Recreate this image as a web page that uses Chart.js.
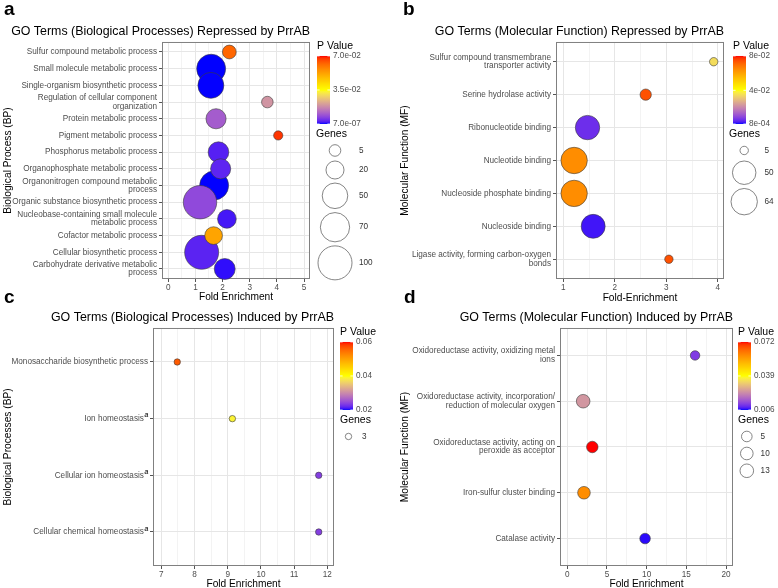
<!DOCTYPE html>
<html>
<head>
<meta charset="utf-8">
<script src="https://cdn.jsdelivr.net/npm/chart.js@4.4.0/dist/chart.umd.min.js"></script>
<style>
html, body { margin: 0; padding: 0; background: #fff; }
#wrap { position: relative; width: 778px; height: 588px; overflow: hidden; font-family: "Liberation Sans", "DejaVu Sans", Arial, sans-serif; }
#wrap canvas { position: absolute; left: 0; top: 0; }
.plab { position: absolute; font-size: 19px; line-height: 19px; font-weight: bold; color: #000; }
</style>
</head>
<body>
<div id="wrap">
  <canvas id="chartA" width="778" height="588"></canvas>
  <canvas id="chartB" width="778" height="588"></canvas>
  <canvas id="chartC" width="778" height="588"></canvas>
  <canvas id="chartD" width="778" height="588"></canvas>
  <div class="plab" style="left:4px;top:-1px">a</div>
  <div class="plab" style="left:403px;top:-1px">b</div>
  <div class="plab" style="left:4px;top:287px">c</div>
  <div class="plab" style="left:404px;top:287px">d</div>
</div>
<script>
// ---------------- DATA ----------------
// Panel a: GO Terms (Biological Processes) Repressed by PrrAB
const aCategories = [
  'Sulfur compound metabolic process',
  'Small molecule metabolic process',
  'Single-organism biosynthetic process',
  'Regulation of cellular component\norganization',
  'Protein metabolic process',
  'Pigment metabolic process',
  'Phosphorus metabolic process',
  'Organophosphate metabolic process',
  'Organonitrogen compound metabolic\nprocess',
  'Organic substance biosynthetic process',
  'Nucleobase-containing small molecule\nmetabolic process',
  'Cofactor metabolic process',
  'Cellular biosynthetic process',
  'Carbohydrate derivative metabolic\nprocess'
];
const aFoldEnrichment = [2.25, 1.58, 1.57, 3.65, 1.76, 4.05, 1.85, 1.93, 1.69, 1.17, 2.16, 1.67, 1.23, 2.08];
const aGenes = [9, 68, 52, 5, 27, 2, 29, 27, 68, 96, 22, 19, 100, 30];
const aPValue = [0.062, 0.00001, 0.00003, 0.019, 0.0105, 0.0676, 0.0025, 0.003, 0.00002, 0.0077, 0.0016, 0.052, 0.0028, 0.0008];
const aXTicks = [0, 1, 2, 3, 4, 5];
const aPTicks = ['7.0e-02', '3.5e-02', '7.0e-07'];
const aGeneBreaks = [5, 20, 50, 70, 100];

// Panel b: GO Terms (Molecular Function) Repressed by PrrAB
const bCategories = [
  'Sulfur compound transmembrane\ntransporter activity',
  'Serine hydrolase activity',
  'Ribonucleotide binding',
  'Nucleotide binding',
  'Nucleoside phosphate binding',
  'Nucleoside binding',
  'Ligase activity, forming carbon-oxygen\nbonds'
];
const bFoldEnrichment = [3.92, 2.60, 1.47, 1.21, 1.21, 1.58, 3.05];
const bGenes = [5, 10, 54, 64, 64, 52, 5];
const bPValue = [0.0345, 0.0741, 0.0055, 0.0642, 0.0642, 0.0024, 0.0741];
const bXTicks = [1, 2, 3, 4];
const bPTicks = ['8e-02', '4e-02', '8e-04'];
const bGeneBreaks = [5, 50, 64];

// Panel c: GO Terms (Biological Processes) Induced by PrrAB  ("^a" marks a superscript a)
const cCategories = [
  'Monosaccharide biosynthetic process',
  'Ion homeostasis^a',
  'Cellular ion homeostasis^a',
  'Cellular chemical homeostasis^a'
];
const cFoldEnrichment = [7.48, 9.14, 11.74, 11.74];
const cGenes = [3, 3, 3, 3];
const cPValue = [0.0564, 0.039, 0.0236, 0.0236];
const cXTicks = [7, 8, 9, 10, 11, 12];
const cPTicks = ['0.06', '0.04', '0.02'];
const cGeneBreaks = [3];

// Panel d: GO Terms (Molecular Function) Induced by PrrAB
const dCategories = [
  'Oxidoreductase activity, oxidizing metal\nions',
  'Oxidoreductase activity, incorporation/\nreduction of molecular oxygen',
  'Oxidoreductase activity, acting on\nperoxide as acceptor',
  'Iron-sulfur cluster binding',
  'Catalase activity'
];
const dFoldEnrichment = [16.1, 2.0, 3.15, 2.1, 9.8];
const dGenes = [3, 13, 7, 10, 5];
const dPValue = [0.0116, 0.0242, 0.072, 0.0588, 0.0066];
const dXTicks = [0, 5, 10, 15, 20];
const dPTicks = ['0.072', '0.039', '0.006'];
const dGeneBreaks = [5, 10, 13];

// ---------------- COLOUR SCALE (blue -> yellow -> red, Lab interpolation) ----------------
const FONT = '"Liberation Sans", "DejaVu Sans", Arial, sans-serif';
function s2l(c) { c /= 255; return c <= 0.04045 ? c / 12.92 : Math.pow((c + 0.055) / 1.055, 2.4); }
function l2s(c) { c = Math.max(0, Math.min(1, c)); return 255 * (c <= 0.0031308 ? 12.92 * c : 1.055 * Math.pow(c, 1 / 2.4) - 0.055); }
function rgb2lab(rgb) {
  const R = s2l(rgb[0]), G = s2l(rgb[1]), B = s2l(rgb[2]);
  const X = (0.4124 * R + 0.3576 * G + 0.1805 * B) / 0.95047;
  const Y = (0.2126 * R + 0.7152 * G + 0.0722 * B);
  const Z = (0.0193 * R + 0.1192 * G + 0.9505 * B) / 1.08883;
  const f = t => t > 0.008856 ? Math.cbrt(t) : 7.787 * t + 16 / 116;
  const fx = f(X), fy = f(Y), fz = f(Z);
  return [116 * fy - 16, 500 * (fx - fy), 200 * (fy - fz)];
}
function lab2rgb(L, a, b) {
  const fy = (L + 16) / 116, fx = fy + a / 500, fz = fy - b / 200;
  const fi = t => t > 0.206893 ? t * t * t : (t - 16 / 116) / 7.787;
  const X = 0.95047 * fi(fx), Y = fi(fy), Z = 1.08883 * fi(fz);
  const R = 3.2406 * X - 1.5372 * Y - 0.4986 * Z;
  const G = -0.9689 * X + 1.8758 * Y + 0.0415 * Z;
  const B = 0.0557 * X - 0.2040 * Y + 1.0570 * Z;
  return [l2s(R), l2s(G), l2s(B)].map(Math.round);
}
const STOP_LABS = [[0, 0, 255], [255, 255, 0], [255, 0, 0]].map(rgb2lab);
function gradColor(t) {
  t = Math.max(0, Math.min(1, t));
  const seg = t < 0.5 ? 0 : 1;
  const u = (t - seg * 0.5) / 0.5;
  const A = STOP_LABS[seg], B = STOP_LABS[seg + 1];
  const c = lab2rgb(A[0] + (B[0] - A[0]) * u, A[1] + (B[1] - A[1]) * u, A[2] + (B[2] - A[2]) * u);
  return 'rgb(' + c.join(',') + ')';
}
const SUP = '^a';
function tickText(label) {
  // superscript marker is replaced by a gap; the raised "a" is drawn by the plugin
  return label.replace(SUP, '\u2002').split('\n');
}

// ---------------- DECORATION PLUGIN (panel border, superscripts, legends) ----------------
function decorPlugin(P) {
  return {
    id: 'decor',
    beforeDatasetsDraw(chart) {
      const { ctx, chartArea: A } = chart;
      ctx.save();
      ctx.strokeStyle = '#808080';
      ctx.lineWidth = 1;
      ctx.strokeRect(A.left + 0.5, A.top + 0.5, A.right - A.left - 1, A.bottom - A.top - 1);
      ctx.restore();
    },
    afterDraw(chart) {
      const { ctx, chartArea: A } = chart;
      ctx.save();
      // superscript markers on category labels
      const ys = chart.scales.y;
      P.categories.forEach((c, i) => {
        if (c.indexOf(SUP) < 0) return;
        const y = ys.getPixelForValue(i);
        ctx.font = 'bold italic 7px ' + FONT;
        ctx.fillStyle = '#333';
        ctx.textAlign = 'right';
        ctx.textBaseline = 'middle';
        ctx.fillText('a', A.left - 4.5, y - 3.2);
      });
      const cbL = A.right + P.legendGap, cbT = A.top + 14, cbW = 13, cbH = 68;
      ctx.textBaseline = 'middle';
      ctx.textAlign = 'left';
      ctx.fillStyle = '#000';
      ctx.font = '10.5px ' + FONT;
      ctx.fillText('P Value', cbL, A.top + 4);
      const g = ctx.createLinearGradient(0, cbT + cbH, 0, cbT);
      for (let i = 0; i <= 40; i++) g.addColorStop(i / 40, gradColor(i / 40));
      ctx.fillStyle = g;
      ctx.fillRect(cbL, cbT, cbW, cbH);
      const vals = P.pTicks.map(Number);
      const lo = Math.min(...vals), hi = Math.max(...vals);
      ctx.font = '8.2px ' + FONT;
      P.pTicks.forEach(lbl => {
        const v = Number(lbl);
        const y = cbT + cbH - (v - lo) / (hi - lo) * cbH;
        ctx.strokeStyle = '#fff';
        ctx.lineWidth = 0.8;
        ctx.beginPath();
        ctx.moveTo(cbL, y); ctx.lineTo(cbL + 2.6, y);
        ctx.moveTo(cbL + cbW - 2.6, y); ctx.lineTo(cbL + cbW, y);
        ctx.stroke();
        ctx.fillStyle = '#4d4d4d';
        ctx.fillText(lbl, cbL + cbW + 3, y);
      });
      // size legend
      const gy = cbT + cbH + 10;
      const gL = cbL + (P.genesShift || 0);
      ctx.fillStyle = '#000';
      ctx.font = '10.5px ' + FONT;
      ctx.fillText('Genes', gL, gy);
      const radii = P.geneBreaks.map(P.sizeFn);
      const keyW = Math.max(17, 2 * Math.max(...radii) + 4);
      let y = gy + 8;
      P.geneBreaks.forEach((gv, i) => {
        const r = radii[i];
        const h = Math.max(17, 2 * r + 4);
        const cy = y + h / 2, cx = gL + keyW / 2;
        ctx.beginPath();
        ctx.arc(cx, cy, r, 0, 2 * Math.PI);
        ctx.strokeStyle = '#666';
        ctx.lineWidth = 0.8;
        ctx.stroke();
        ctx.fillStyle = '#333';
        ctx.font = '8.2px ' + FONT;
        ctx.fillText(String(gv), gL + keyW + 5, cy);
        y += h;
      });
      ctx.restore();
    }
  };
}

// ---------------- CHART BUILDER ----------------
function buildChart(id, P) {
  const B = P.box;
  const n = P.categories.length;
  const majors = new Set(P.xTicks);
  const step = P.xTicks[1] - P.xTicks[0];
  const minors = [];
  for (let v = P.xTicks[0] - step / 2; v <= P.xTicks[P.xTicks.length - 1] + step / 2 + 1e-9; v += step) {
    if (v >= P.xMin && v <= P.xMax) minors.push(v);
  }
  const allTicks = [...P.xTicks, ...minors].sort((a, b) => a - b);
  const vals = P.pTicks.map(Number);
  const lo = Math.min(...vals), hi = Math.max(...vals);
  const points = P.categories.map((c, i) => ({
    x: P.fold[i], y: i, r: P.sizeFn(P.genes[i]), p: P.pvals[i]
  })).sort((a, b) => a.p - b.p);

  new Chart(document.getElementById(id), {
    type: 'bubble',
    data: {
      datasets: [{
        data: points,
        backgroundColor: ctx => gradColor((ctx.raw.p - lo) / (hi - lo)),
        borderColor: '#3a3a3a',
        borderWidth: 0.6,
        clip: false
      }]
    },
    options: {
      responsive: false,
      animation: false,
      devicePixelRatio: 1,
      events: [],
      layout: {
        padding: { left: B.boxLeft, top: B.plotTop - 17.7, right: 778 - B.plotRight, bottom: 588 - B.boxBottom }
      },
      plugins: {
        legend: { display: false },
        tooltip: { enabled: false },
        title: {
          display: true, text: P.title, align: 'end', color: '#000',
          font: { size: 12.4, weight: 'normal', family: FONT, lineHeight: 1.2 },
          padding: { top: 0, bottom: 2.8 }
        }
      },
      scales: {
        x: {
          type: 'linear', position: 'bottom', min: P.xMin, max: P.xMax,
          afterBuildTicks: s => { s.ticks = allTicks.map(v => ({ value: v })); },
          afterFit: s => { s.height = B.boxBottom - B.plotBottom; },
          ticks: {
            autoSkip: false, maxRotation: 0, minRotation: 0, padding: 1, color: '#4d4d4d',
            font: { size: 8.2, family: FONT },
            callback: v => majors.has(v) ? String(v) : ''
          },
          grid: {
            color: c => (c.tick && majors.has(c.tick.value)) ? '#e6e6e6' : '#f3f3f3',
            tickColor: c => (c.tick && majors.has(c.tick.value)) ? '#555' : 'rgba(0,0,0,0)',
            tickLength: 3, lineWidth: 1
          },
          border: { display: false },
          title: {
            display: true, text: P.xTitle, color: '#000',
            font: { size: 10.2, family: FONT, lineHeight: 1.2 },
            padding: { top: 0, bottom: P.xTitlePad }
          }
        },
        y: {
          type: 'linear', position: 'left', min: -0.6, max: n - 0.4, reverse: true,
          afterBuildTicks: s => { s.ticks = P.categories.map((_, i) => ({ value: i })); },
          afterFit: s => { s.width = B.plotLeft - B.boxLeft; },
          ticks: {
            autoSkip: false, padding: 2, color: '#4d4d4d',
            font: { size: 8.2, family: FONT, lineHeight: 1.03 },
            callback: v => tickText(P.categories[v])
          },
          grid: { color: '#e6e6e6', tickColor: '#555', tickLength: 3, lineWidth: 1 },
          border: { display: false },
          title: {
            display: true, text: P.yTitle, color: '#000',
            font: { size: 10.2, family: FONT, lineHeight: 1.2 },
            padding: { top: 0, bottom: 0 }
          }
        }
      }
    },
    plugins: [decorPlugin(P)]
  });
}

buildChart('chartA', {
  title: 'GO Terms (Biological Processes) Repressed by PrrAB',
  xTitle: 'Fold Enrichment', yTitle: 'Biological Process (BP)',
  categories: aCategories, fold: aFoldEnrichment, genes: aGenes, pvals: aPValue,
  xTicks: aXTicks, pTicks: aPTicks, geneBreaks: aGeneBreaks,
  xMin: -0.23, xMax: 5.22,
  sizeFn: g => 2.57 + 1.443 * Math.sqrt(g),
  box: { boxLeft: 2, plotLeft: 162, plotTop: 42, plotRight: 310, plotBottom: 279, boxBottom: 303 },
  xTitlePad: 0, legendGap: 7, genesShift: -1
});
buildChart('chartB', {
  title: 'GO Terms (Molecular Function) Repressed by PrrAB',
  xTitle: 'Fold-Enrichment', yTitle: 'Molecular Function (MF)',
  categories: bCategories, fold: bFoldEnrichment, genes: bGenes, pvals: bPValue,
  xTicks: bXTicks, pTicks: bPTicks, geneBreaks: bGeneBreaks,
  xMin: 0.858, xMax: 4.12,
  sizeFn: g => 0.7 + 1.5625 * Math.sqrt(g),
  box: { boxLeft: 399, plotLeft: 556, plotTop: 42, plotRight: 724, plotBottom: 279, boxBottom: 304 },
  xTitlePad: 0, legendGap: 9, genesShift: -4
});
buildChart('chartC', {
  title: 'GO Terms (Biological Processes) Induced by PrrAB',
  xTitle: 'Fold Enrichment', yTitle: 'Biological Processes (BP)',
  categories: cCategories, fold: cFoldEnrichment, genes: cGenes, pvals: cPValue,
  xTicks: cXTicks, pTicks: cPTicks, geneBreaks: cGeneBreaks,
  xMin: 6.75, xMax: 12.2,
  sizeFn: g => 1.85 * Math.sqrt(g),
  box: { boxLeft: 2, plotLeft: 153, plotTop: 328, plotRight: 334, plotBottom: 566, boxBottom: 588 },
  xTitlePad: -2, legendGap: 6, genesShift: 0
});
buildChart('chartD', {
  title: 'GO Terms (Molecular Function) Induced by PrrAB',
  xTitle: 'Fold Enrichment', yTitle: 'Molecular Function (MF)',
  categories: dCategories, fold: dFoldEnrichment, genes: dGenes, pvals: dPValue,
  xTicks: dXTicks, pTicks: dPTicks, geneBreaks: dGeneBreaks,
  xMin: -0.92, xMax: 20.88,
  sizeFn: g => 2.85 + 1.095 * Math.sqrt(g),
  box: { boxLeft: 399, plotLeft: 560, plotTop: 328, plotRight: 733, plotBottom: 566, boxBottom: 588 },
  xTitlePad: -2, legendGap: 5, genesShift: 0
});
</script>
</body>
</html>
